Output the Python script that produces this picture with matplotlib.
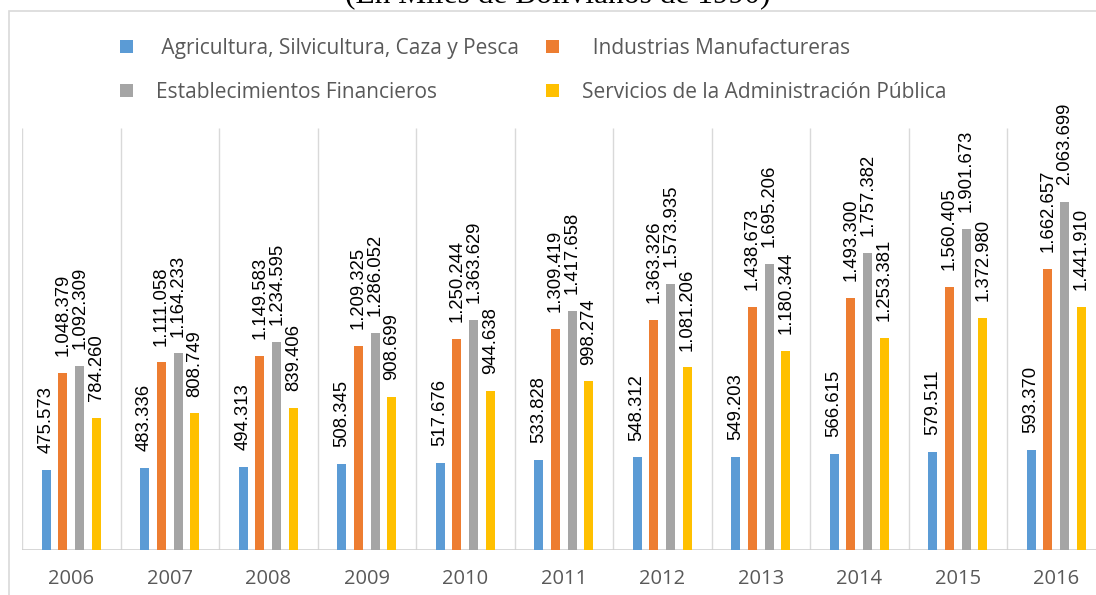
import numpy as np
import matplotlib
matplotlib.use("Agg")
import matplotlib.pyplot as plt
from matplotlib.patches import Rectangle

years = ["2006", "2007", "2008", "2009", "2010", "2011", "2012", "2013", "2014", "2015", "2016"]

agricultura = [475573, 483336, 494313, 508345, 517676, 533828, 548312, 549203, 566615, 579511, 593370]
industrias = [1048379, 1111058, 1149583, 1209325, 1250244, 1309419, 1363326, 1438673, 1493300, 1560405, 1662657]
financieros = [1092309, 1164233, 1234595, 1286052, 1363629, 1417658, 1573935, 1695206, 1757382, 1901673, 2063699]
servicios = [784260, 808749, 839406, 908699, 944638, 998274, 1081206, 1180344, 1253381, 1372980, 1441910]

series_names = [" Agricultura, Silvicultura, Caza y Pesca", "  Industrias Manufactureras",
                "Establecimientos Financieros", "Servicios de la Administración Pública"]
colors = ["#5B9BD5", "#ED7D31", "#A5A5A5", "#FFC000"]

W, H = 1096, 595
fig = plt.figure(figsize=(W / 100, H / 100), dpi=100)

# outer chart border (runs off the right and bottom edges like the original)
fig.patches.append(Rectangle((9 / W, -0.2), 2, 1.2 - 11 / H, transform=fig.transFigure,
                             fill=False, edgecolor="#d9d9d9", lw=1.2))

fig.text(558 / W, 1 - 3 / H, "(En Miles de Bolivianos de 1990)", ha="center", va="baseline",
         fontsize=22.7, family="Liberation Serif", color="black")

ax = fig.add_axes([22 / W, 45 / H, 1083.5 / W, 422 / H])
x = np.arange(len(years))
width = 0.0914
step = 0.1706

bars = []
for i, (vals, col) in enumerate(zip([agricultura, industrias, financieros, servicios], colors)):
    b = ax.bar(x + (i - 1.5) * step, vals, width, color=col, zorder=3)
    bars.append(b)
    ax.bar_label(b, labels=["{:,}".format(v).replace(",", ".") for v in vals],
                 rotation=90, padding=12.2, fontsize=13.3, family="Liberation Sans", color="black")

ax.set_xlim(-0.5, len(years) - 0.5)
ax.set_ylim(0, 2500000)
ax.vlines(np.arange(-0.5, len(years), 1), 0, 2500000, color="#d9d9d9", lw=1, zorder=1)
ax.axhline(0, color="#d0d0d0", lw=1.2, zorder=2)
for s in ax.spines.values():
    s.set_visible(False)
ax.set_yticks([])
ax.set_xticks(x)
ax.set_xticklabels(years, fontsize=14.5, family="Open Sans", color="#595959")
ax.tick_params(axis="x", length=0, pad=14)

# legend, two rows of two
handles = [bars[0], bars[2], bars[1], bars[3]]
labels = [series_names[0], series_names[2], series_names[1], series_names[3]]
fig.legend(handles, labels, ncol=2, loc="upper left", bbox_to_anchor=(120 / W, 1 - 38 / H),
           frameon=False, borderpad=0, borderaxespad=0, handlelength=0.63, handleheight=0.63,
           handletextpad=1.1, columnspacing=1.3, labelspacing=1.1,
           prop={"family": "Open Sans", "size": 15}, labelcolor="#595959")

fig.savefig("out.png", dpi=100)
